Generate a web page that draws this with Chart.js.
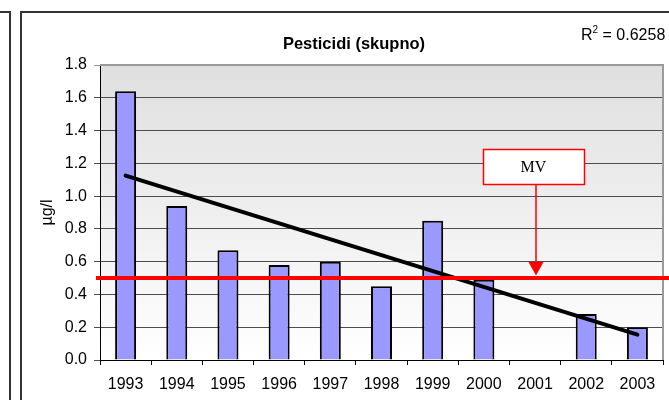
<!DOCTYPE html>
<html>
<head>
<meta charset="utf-8">
<script src="https://cdn.jsdelivr.net/npm/chart.js@4.4.1/dist/chart.umd.min.js"></script>
<style>
html,body{margin:0;padding:0;background:#fff;}
#wrap{position:relative;width:669px;height:400px;overflow:hidden;}
#c{position:absolute;left:0;top:0;}
.t{position:absolute;font-family:"Liberation Sans",Arial,sans-serif;color:#000;white-space:nowrap;}
#title{left:254px;width:200px;text-align:center;top:33px;font-size:16.5px;font-weight:bold;line-height:20px;}
#r2{left:581px;top:25px;font-size:16px;line-height:20px;}
#r2 sup{font-size:10px;vertical-align:0;position:relative;top:-7px;}
</style>
</head>
<body>
<div id="wrap">
<canvas id="c" width="669" height="400"></canvas>
<div class="t" id="title"></div>
<div class="t" id="r2"></div>
</div>
<script>
// ---- data ----
const years = ['1993','1994','1995','1996','1997','1998','1999','2000','2001','2002','2003'];
const pesticideValues = [1.64, 0.94, 0.67, 0.58, 0.60, 0.45, 0.85, 0.49, null, 0.28, 0.20];
const trendValues = [1.125, null, null, null, null, null, null, null, null, null, 0.155];
const yTicks = [0.0, 0.2, 0.4, 0.6, 0.8, 1.0, 1.2, 1.4, 1.6, 1.8];
const mvValue = 0.5;
const mvLabel = 'MV';
const chartTitle = 'Pesticidi (skupno)';
const rSquared = '0.6258';
const yAxisTitle = 'µg/l';

document.getElementById('title').textContent = chartTitle;
document.getElementById('r2').innerHTML = 'R<sup>2</sup> = ' + rSquared;

const FONT = '"Liberation Sans", Arial, sans-serif';

const decor = {
  id: 'decor',
  beforeDraw(chart) {
    const {ctx, chartArea: a} = chart;
    ctx.save();
    ctx.strokeStyle = '#333';
    ctx.lineWidth = 2;
    ctx.beginPath();
    ctx.moveTo(0, 12); ctx.lineTo(10, 12); ctx.lineTo(10, 400);
    ctx.moveTo(21, 400); ctx.lineTo(21, 12); ctx.lineTo(669, 12);
    ctx.stroke();
    const g = ctx.createLinearGradient(0, a.top, 0, a.bottom);
    g.addColorStop(0, '#dfdfdf');
    g.addColorStop(1, '#ffffff');
    ctx.fillStyle = g;
    ctx.fillRect(a.left, a.top, a.right - a.left, a.bottom - a.top);
    ctx.restore();
  },
  beforeDatasetsDraw(chart) {
    const {ctx, chartArea: a} = chart;
    ctx.save();
    ctx.strokeStyle = '#9a9a9a';
    ctx.lineWidth = 2;
    ctx.beginPath();
    ctx.moveTo(a.left, a.top); ctx.lineTo(a.right, a.top); ctx.lineTo(a.right, a.bottom);
    ctx.stroke();
    ctx.restore();
  },
  afterDraw(chart) {
    const {ctx, chartArea: a} = chart;
    const y = chart.scales.y.getPixelForValue(mvValue);
    ctx.save();
    ctx.strokeStyle = '#ff0000';
    ctx.fillStyle = '#ff0000';
    ctx.lineWidth = 4;
    ctx.beginPath();
    ctx.moveTo(a.left - 4, y); ctx.lineTo(chart.width, y);
    ctx.stroke();
    const boxL = 483, boxT = 149, boxW = 101, boxH = 35, ax = 536;
    ctx.lineWidth = 1.5;
    ctx.beginPath();
    ctx.moveTo(ax, boxT + boxH); ctx.lineTo(ax, y - 15);
    ctx.stroke();
    ctx.beginPath();
    ctx.moveTo(ax - 7.5, y - 16); ctx.lineTo(ax + 7.5, y - 16); ctx.lineTo(ax, y - 2.5);
    ctx.closePath();
    ctx.fill();
    ctx.fillStyle = '#ffffff';
    ctx.fillRect(boxL, boxT, boxW, boxH);
    ctx.strokeRect(boxL + 0.5, boxT + 0.5, boxW, boxH);
    ctx.fillStyle = '#000';
    ctx.font = '16px "Liberation Serif", "Times New Roman", serif';
    ctx.textAlign = 'center';
    ctx.textBaseline = 'middle';
    ctx.fillText(mvLabel, boxL + boxW / 2, boxT + boxH / 2 + 1);
    ctx.restore();
  }
};

new Chart(document.getElementById('c'), {
  type: 'bar',
  data: {
    labels: years,
    datasets: [
      {
        type: 'line',
        data: trendValues,
        spanGaps: true,
        borderColor: '#000',
        borderWidth: 4,
        pointRadius: 0,
        borderCapStyle: 'round',
        order: 0
      },
      {
        type: 'bar',
        data: pesticideValues,
        backgroundColor: '#9999ff',
        borderColor: '#000',
        borderWidth: 2,
        barPercentage: 0.41,
        categoryPercentage: 1,
        order: 1
      }
    ]
  },
  options: {
    responsive: false,
    animation: false,
    devicePixelRatio: 1,
    layout: { padding: { top: 65, right: 6, bottom: 0, left: 0 } },
    plugins: { legend: { display: false }, tooltip: { enabled: false }, title: { display: false } },
    scales: {
      x: {
        offset: true,
        grid: { offset: true, drawOnChartArea: false, drawTicks: true, tickLength: 5, color: '#000', lineWidth: 1 },
        border: { color: '#000', width: 1 },
        ticks: { font: { family: FONT, size: 16 }, color: '#000', padding: 10, maxRotation: 0, autoSkip: false },
        afterFit(s) { s.height = 40; s.paddingLeft = 0; s.paddingRight = 0; }
      },
      y: {
        min: 0,
        max: 1.8,
        afterBuildTicks(s) { s.ticks = yTicks.map(v => ({ value: v })); },
        grid: {
          color: c => (c.tick && c.tick.value >= 1.8 ? '#9a9a9a' : '#4d4d4d'),
          lineWidth: 1,
          tickLength: 6
        },
        border: { color: '#000', width: 1 },
        ticks: { callback: v => Number(v).toFixed(1), font: { family: FONT, size: 16 }, color: '#000', padding: 7 },
        title: { display: true, text: yAxisTitle, font: { family: FONT, size: 16 }, color: '#000', padding: { top: 38, bottom: 0 } },
        afterFit(s) { s.width = 100; s.paddingTop = 0; s.paddingBottom = 0; }
      }
    }
  },
  plugins: [decor]
});
</script>
</body>
</html>
